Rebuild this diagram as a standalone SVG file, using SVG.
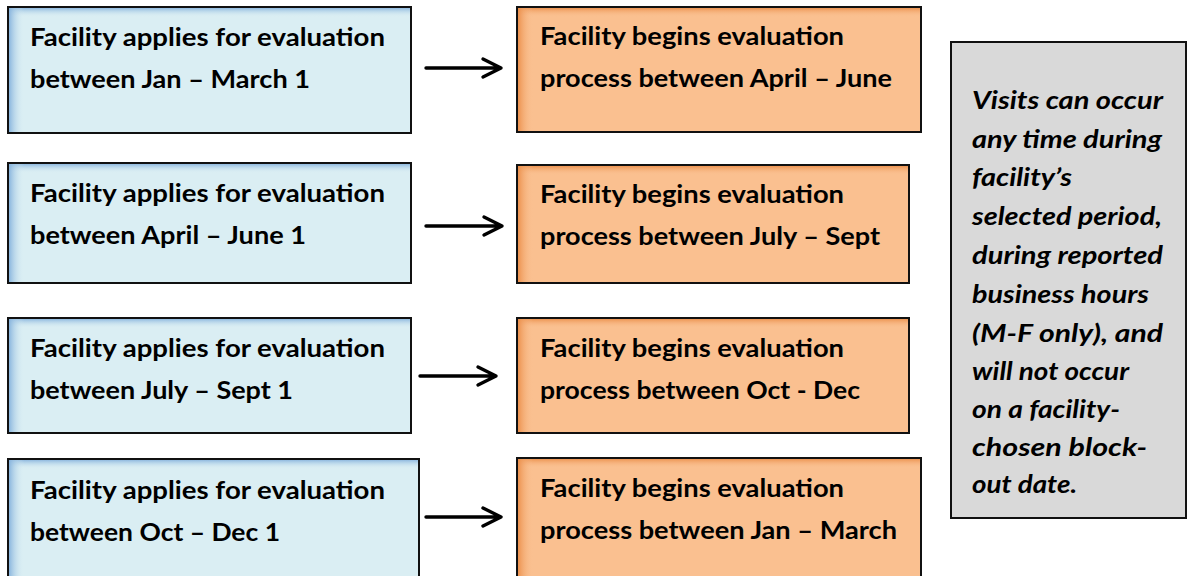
<svg xmlns="http://www.w3.org/2000/svg" width="1188" height="576" viewBox="0 0 1188 576">
  <defs>
    <!-- soft inner shading along the top and left edges of the boxes -->
    <linearGradient id="blueTop" x1="0" y1="0" x2="0" y2="1">
      <stop offset="0" stop-color="#7FAEDB" stop-opacity="1"/>
      <stop offset="1" stop-color="#DAEEF3" stop-opacity="0"/>
    </linearGradient>
    <linearGradient id="blueLeft" x1="0" y1="0" x2="1" y2="0">
      <stop offset="0" stop-color="#7FAEDB" stop-opacity="1"/>
      <stop offset="1" stop-color="#DAEEF3" stop-opacity="0"/>
    </linearGradient>
    <linearGradient id="orangeTop" x1="0" y1="0" x2="0" y2="1">
      <stop offset="0" stop-color="#EA8B45" stop-opacity="1"/>
      <stop offset="1" stop-color="#FAC090" stop-opacity="0"/>
    </linearGradient>
    <linearGradient id="orangeLeft" x1="0" y1="0" x2="1" y2="0">
      <stop offset="0" stop-color="#EA8B45" stop-opacity="1"/>
      <stop offset="1" stop-color="#FAC090" stop-opacity="0"/>
    </linearGradient>
  </defs>
  <style>
    .blue { fill: #DAEEF3; }
    .orange { fill: #FAC090; }
    .grey { fill: #D9D9D9; }
    .edge { fill: none; stroke: #111; stroke-width: 2; }
    .lbl { font-family: Lato, "Liberation Sans", sans-serif; font-weight: bold; font-size: 24px; fill: #000; }
    .note { font-family: Lato, "Liberation Sans", sans-serif; font-weight: bold; font-style: italic; font-size: 25px; fill: #000; }
    .conn { stroke: #000; stroke-width: 3.4; fill: none; stroke-linecap: round; stroke-linejoin: round; }
  </style>

  <rect width="1188" height="576" fill="#FFFFFF"/>

  <!-- application windows -->
  <g id="apply-jan">
    <rect class="blue" x="8" y="7" width="403" height="126"/>
    <rect fill="url(#blueTop)" x="8" y="7" width="403" height="10"/>
    <rect fill="url(#blueLeft)" x="8" y="7" width="16" height="126"/>
    <rect class="edge" x="8" y="7" width="403" height="126"/>
    <text class="lbl" x="30" y="46" textLength="355" lengthAdjust="spacingAndGlyphs">Facility applies for evaluation</text>
    <text class="lbl" x="30" y="88" textLength="280" lengthAdjust="spacingAndGlyphs">between Jan – March 1</text>
  </g>
  <g id="apply-april">
    <rect class="blue" x="8" y="163" width="403" height="120"/>
    <rect fill="url(#blueTop)" x="8" y="163" width="403" height="10"/>
    <rect fill="url(#blueLeft)" x="8" y="163" width="16" height="120"/>
    <rect class="edge" x="8" y="163" width="403" height="120"/>
    <text class="lbl" x="30" y="202" textLength="355" lengthAdjust="spacingAndGlyphs">Facility applies for evaluation</text>
    <text class="lbl" x="30" y="244" textLength="276" lengthAdjust="spacingAndGlyphs">between April – June 1</text>
  </g>
  <g id="apply-july">
    <rect class="blue" x="8" y="318" width="403" height="115"/>
    <rect fill="url(#blueTop)" x="8" y="318" width="403" height="10"/>
    <rect fill="url(#blueLeft)" x="8" y="318" width="16" height="115"/>
    <rect class="edge" x="8" y="318" width="403" height="115"/>
    <text class="lbl" x="30" y="357" textLength="355" lengthAdjust="spacingAndGlyphs">Facility applies for evaluation</text>
    <text class="lbl" x="30" y="399" textLength="263" lengthAdjust="spacingAndGlyphs">between July – Sept 1</text>
  </g>
  <g id="apply-oct">
    <rect class="blue" x="8" y="459" width="411" height="125"/>
    <rect fill="url(#blueTop)" x="8" y="459" width="411" height="10"/>
    <rect fill="url(#blueLeft)" x="8" y="459" width="16" height="125"/>
    <rect class="edge" x="8" y="459" width="411" height="125"/>
    <text class="lbl" x="30" y="499" textLength="355" lengthAdjust="spacingAndGlyphs">Facility applies for evaluation</text>
    <text class="lbl" x="30" y="541" textLength="250" lengthAdjust="spacingAndGlyphs">between Oct – Dec 1</text>
  </g>

  <!-- evaluation periods -->
  <g id="begin-april">
    <rect class="orange" x="517" y="7" width="404" height="125"/>
    <rect fill="url(#orangeTop)" x="517" y="7" width="404" height="10"/>
    <rect fill="url(#orangeLeft)" x="517" y="7" width="16" height="125"/>
    <rect class="edge" x="517" y="7" width="404" height="125"/>
    <text class="lbl" x="540" y="45" textLength="304" lengthAdjust="spacingAndGlyphs">Facility begins evaluation</text>
    <text class="lbl" x="540" y="87" textLength="352" lengthAdjust="spacingAndGlyphs">process between April – June</text>
  </g>
  <g id="begin-july">
    <rect class="orange" x="517" y="165" width="392" height="118"/>
    <rect fill="url(#orangeTop)" x="517" y="165" width="392" height="10"/>
    <rect fill="url(#orangeLeft)" x="517" y="165" width="16" height="118"/>
    <rect class="edge" x="517" y="165" width="392" height="118"/>
    <text class="lbl" x="540" y="203" textLength="304" lengthAdjust="spacingAndGlyphs">Facility begins evaluation</text>
    <text class="lbl" x="540" y="245" textLength="340" lengthAdjust="spacingAndGlyphs">process between July – Sept</text>
  </g>
  <g id="begin-oct">
    <rect class="orange" x="517" y="318" width="392" height="115"/>
    <rect fill="url(#orangeTop)" x="517" y="318" width="392" height="10"/>
    <rect fill="url(#orangeLeft)" x="517" y="318" width="16" height="115"/>
    <rect class="edge" x="517" y="318" width="392" height="115"/>
    <text class="lbl" x="540" y="357" textLength="304" lengthAdjust="spacingAndGlyphs">Facility begins evaluation</text>
    <text class="lbl" x="540" y="399" textLength="320" lengthAdjust="spacingAndGlyphs">process between Oct - Dec</text>
  </g>
  <g id="begin-jan">
    <rect class="orange" x="517" y="458" width="404" height="126"/>
    <rect fill="url(#orangeTop)" x="517" y="458" width="404" height="10"/>
    <rect fill="url(#orangeLeft)" x="517" y="458" width="16" height="126"/>
    <rect class="edge" x="517" y="458" width="404" height="126"/>
    <text class="lbl" x="540" y="497" textLength="304" lengthAdjust="spacingAndGlyphs">Facility begins evaluation</text>
    <text class="lbl" x="540" y="539" textLength="357" lengthAdjust="spacingAndGlyphs">process between Jan – March</text>
  </g>

  <!-- visit note -->
  <g id="visit-note">
    <rect class="grey" x="951" y="42" width="235" height="476"/>
    <rect class="edge" x="951" y="42" width="235" height="476"/>
    <text class="note" x="972" y="109" textLength="191" lengthAdjust="spacingAndGlyphs">Visits can occur</text>
    <text class="note" x="972" y="148" textLength="190" lengthAdjust="spacingAndGlyphs">any time during</text>
    <text class="note" x="972" y="186" textLength="100" lengthAdjust="spacingAndGlyphs">facility’s</text>
    <text class="note" x="972" y="225" textLength="190" lengthAdjust="spacingAndGlyphs">selected period,</text>
    <text class="note" x="972" y="264" textLength="191" lengthAdjust="spacingAndGlyphs">during reported</text>
    <text class="note" x="972" y="303" textLength="177" lengthAdjust="spacingAndGlyphs">business hours</text>
    <text class="note" x="972" y="342" textLength="191" lengthAdjust="spacingAndGlyphs">(M-F only), and</text>
    <text class="note" x="972" y="380" textLength="157" lengthAdjust="spacingAndGlyphs">will not occur</text>
    <text class="note" x="972" y="418" textLength="148" lengthAdjust="spacingAndGlyphs">on a facility-</text>
    <text class="note" x="972" y="456" textLength="175" lengthAdjust="spacingAndGlyphs">chosen block-</text>
    <text class="note" x="972" y="493" textLength="105" lengthAdjust="spacingAndGlyphs">out date.</text>
  </g>

  <!-- connectors -->
  <g id="connectors">
    <path class="conn" d="M426 68 H501 M483 59 L501 68 L483 77"/>
    <path class="conn" d="M426 226 H502 M484 217 L502 226 L484 235"/>
    <path class="conn" d="M420 376 H496 M478 367 L496 376 L478 385"/>
    <path class="conn" d="M426 517 H501 M483 508 L501 517 L483 526"/>
  </g>
</svg>
